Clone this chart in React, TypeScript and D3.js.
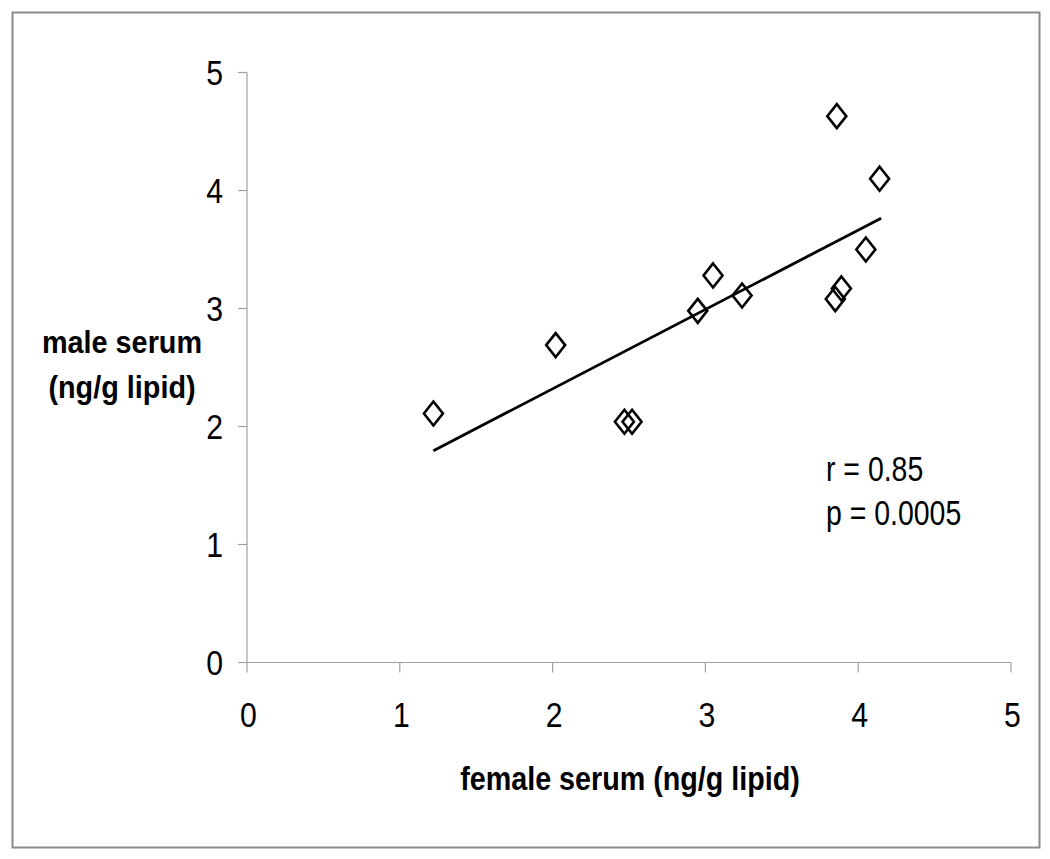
import React from 'react';
import * as d3 from 'd3';

// female serum (x) vs male serum (y), ng/g lipid
const femaleSerum = [1.22, 2.02, 2.47, 2.52, 2.95, 3.05, 3.24, 3.85, 3.89, 3.86, 4.05, 4.14];
const maleSerum = [2.11, 2.69, 2.04, 2.04, 2.98, 3.28, 3.11, 3.08, 3.17, 4.63, 3.50, 4.10];
const fitLine = [
  { x: 1.22, y: 1.795 },
  { x: 4.15, y: 3.765 },
];
const xTicks = [0, 1, 2, 3, 4, 5];
const yTicks = [0, 1, 2, 3, 4, 5];
const statLines = ['r = 0.85', 'p = 0.0005'];

const width = 1050;
const height = 859;
const margin = { top: 72.5, right: 39, bottom: 196.5, left: 247 };
const font = '"Liberation Sans", Arial, sans-serif';

// no narrow font installed, so squeeze text horizontally around its anchor
const Label = ({ x, y, sx, size, bold = false, anchor = 'start', dy, children }: any) => (
  <text
    transform={`translate(${x},${y}) scale(${sx},1)`}
    textAnchor={anchor}
    dy={dy}
    fontSize={size}
    fontWeight={bold ? 'bold' : 'normal'}
    fill="#000"
  >
    {children}
  </text>
);

const App = () => {
  const x = d3.scaleLinear().domain([0, 5]).range([margin.left, width - margin.right]);
  const y = d3.scaleLinear().domain([0, 5]).range([height - margin.bottom, margin.top]);

  const points = femaleSerum.map((f, i) => ({ x: f, y: maleSerum[i] }));
  const line = d3.line<{ x: number; y: number }>().x(d => x(d.x)).y(d => y(d.y));

  // diamond marker, 19 wide by 24 tall
  const diamond = (cx: number, cy: number) =>
    `M${cx},${cy - 12}L${cx + 9.5},${cy}L${cx},${cy + 12}L${cx - 9.5},${cy}Z`;

  const x0 = x(0);
  const y0 = y(0);

  return (
    <svg
      width={width}
      height={height}
      style={{ position: 'absolute', left: 0, top: 0, background: '#fff' }}
      fontFamily={font}
    >
      <rect x={12.5} y={12.5} width={1027} height={835} fill="#fff" stroke="#8a8a8a" strokeWidth={2} />

      {/* axes */}
      <line x1={x0} x2={x0} y1={y(5)} y2={y0} stroke="#a0a0a0" strokeWidth={1.2} />
      <line x1={x0} x2={x(5)} y1={y0} y2={y0} stroke="#a0a0a0" strokeWidth={1.2} />
      {yTicks.map(t => (
        <g key={`y${t}`}>
          <line x1={x0 - 9} x2={x0} y1={y(t)} y2={y(t)} stroke="#a0a0a0" strokeWidth={1.2} />
          <Label x={x0 - 24} y={y(t)} dy="0.36em" anchor="end" size={36} sx={0.84}>
            {t}
          </Label>
        </g>
      ))}
      {xTicks.map(t => (
        <g key={`x${t}`}>
          <line x1={x(t)} x2={x(t)} y1={y0} y2={y0 + 10} stroke="#a0a0a0" strokeWidth={1.2} />
          <Label x={x(t) + 1.5} y={727} anchor="middle" size={36} sx={0.84}>
            {t}
          </Label>
        </g>
      ))}

      {/* axis titles */}
      <Label x={122} y={353} anchor="middle" size={32} sx={0.9} bold>
        male serum
      </Label>
      <Label x={122} y={398} anchor="middle" size={32} sx={0.9} bold>
        (ng/g lipid)
      </Label>
      <Label x={630} y={790} anchor="middle" size={33} sx={0.87} bold>
        female serum (ng/g lipid)
      </Label>

      {/* regression line */}
      <path d={line(fitLine) || ''} fill="none" stroke="#000" strokeWidth={2.8} />

      {/* data points */}
      {points.map((p, i) => (
        <path key={i} d={diamond(x(p.x), y(p.y))} fill="none" stroke="#000" strokeWidth={2.6} />
      ))}

      {/* statistics */}
      {statLines.map((s, i) => (
        <Label key={s} x={826} y={480.5 + i * 44.5} size={36} sx={0.79}>
          {s}
        </Label>
      ))}
    </svg>
  );
};

export default App;
